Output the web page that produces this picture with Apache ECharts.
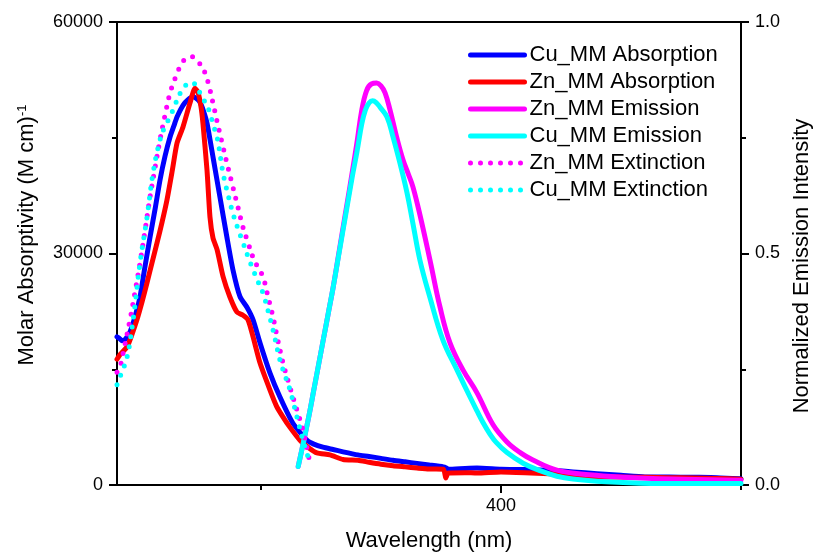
<!DOCTYPE html>
<html>
<head>
<meta charset="utf-8">
<script src="https://cdn.jsdelivr.net/npm/echarts@6/dist/echarts.min.js"></script>
<style>html,body{margin:0;padding:0;background:#fff;}#chart{width:814px;height:554px;}</style>
</head>
<body>
<div id="chart"></div>
<script>
// ---------- data ----------
const seriesNames = ['Cu_MM Absorption','Zn_MM Absorption','Zn_MM Emission','Cu_MM Emission','Zn_MM Extinction','Cu_MM Extinction'];

const cuAbsWl  = [240,241,242,243.5,245.5,247.5,249.6,251.5,253.75,256,257.9,260,262.1,264,265,267.5,269.5,271.7,273,274.6,276,277.5,280,282.9,285.8,288.3,291.25,294.2,296.7,299.6,303.75,307.9,313.3,319.2,322,325.8,330,334.2,340.4,345,350,355,360,365,370,376,377,378,385,390,400,410,420,430,440,450,460,470,480,490,500];
const cuAbsVal = [19200,19000,18700,18900,19900,21800,24400,28000,32100,36000,39500,42600,45100,46800,47700,49200,49900,50300,50100,49600,48500,46900,42500,37300,32100,27900,24400,23000,21400,18400,14500,11400,8000,5800,5300,4900,4600,4300,3900,3700,3450,3200,3000,2800,2600,2350,2250,2050,2150,2200,2050,2000,1900,1700,1450,1250,1050,1050,1000,950,800];

const znAbsWl  = [240,241.25,244.2,246,248.3,250.5,252.5,254.5,256.7,258.8,260.8,263,265,267.5,270.4,272.5,273.75,275,275.8,277.5,278.75,280,281.7,284.2,287,290,292.5,294.6,296.7,299.6,303.75,306.5,309.2,312,316.25,320,323.3,328.75,334.2,340.4,345,350,355,360,365,370,376,377,378,385,390,400,410,420,430,440,450,460,470,480,490,500];
const znAbsVal = [16300,16900,17900,19300,21400,23800,26200,28700,31400,34100,36900,40700,44300,46400,49500,51400,50900,49000,46900,40800,34700,32000,30500,27000,24400,22400,22000,21400,19200,15800,12300,10200,8800,7500,5800,4800,4150,3900,3300,3200,2950,2700,2500,2350,2200,2070,2050,900,1550,1600,1550,1700,1600,1450,1250,1050,1050,1000,950,900,850,750];

const znExtWl  = [240,241.25,243,245.4,247.5,249.6,251.7,253.75,255.8,257.9,260,262.1,264.6,267.1,269,271.25,274,276.7,278.5,280,282,284.2,286.2,288.3,290.4,292.5,294.6,296.7,298.7,300.8,303,305,307,309.2,311.2,313.3,315.4,317.5,319,320.4];
const znExtVal = [14600,15300,17800,21400,25000,28800,33000,37300,41000,44700,47900,50800,53000,54700,55300,55500,54800,53400,51500,49500,46700,43800,41200,38600,36000,33400,31400,29500,28200,27000,24300,21800,18800,15800,13600,11400,9300,7100,5000,2850];

const cuExtWl  = [240,241.25,244.2,246.7,249.6,252.5,255,257.9,260,262.1,264.5,267.1,269,271.25,273,274.6,276.7,278.75,280,281.7,284.2,286.2,288.3,290.4,292.5,294.6,296.7,298.7,300.8,303,305,307.9,310,312.1,315,317.5,320.4];
const cuExtVal = [13000,14000,16600,21400,28800,34700,40400,44700,46500,47700,49500,51200,51900,52200,51700,50800,49600,48200,46700,45100,40400,37700,35200,33200,31400,29600,27900,26400,24900,22500,20100,16200,14200,12300,8800,5800,2850];

const cuEmWl  = [315.5,318,320,322,324,326,328,330,332,334,336,338,340,342,343.5,345,346.5,348,349.6,352.5,355,357.9,360.8,363.3,366.25,370.4,375.8,381.7,387.1,390,392.5,395.4,398,402.5,409.2,416.25,423.3,430,444,458,480,500];
const cuEmVal = [0.04,0.10,0.15,0.205,0.26,0.315,0.37,0.425,0.485,0.545,0.605,0.665,0.72,0.78,0.81,0.825,0.83,0.826,0.816,0.795,0.752,0.695,0.632,0.565,0.485,0.405,0.313,0.248,0.19,0.16,0.135,0.11,0.092,0.07,0.047,0.031,0.019,0.013,0.007,0.004,0.003,0.003];

const znEmWl  = [315.5,318,320,322,324,326,328,330,332,334,336,338,340,342,344,346,348.2,350,351.7,353.75,356.5,359.2,361.5,363.3,366.25,370.4,374.6,378.75,384.2,390,396.7,402.5,408,413.3,423.3,437,450.8,471.7,500];
const znEmVal = [0.04,0.10,0.15,0.205,0.26,0.315,0.37,0.425,0.487,0.55,0.612,0.675,0.74,0.81,0.852,0.866,0.868,0.862,0.847,0.81,0.752,0.702,0.67,0.644,0.583,0.486,0.384,0.307,0.248,0.199,0.13,0.093,0.07,0.054,0.032,0.022,0.017,0.013,0.01];

const xTickLabels = [400];
const xMinorTicks = [300, 500];
// ----------------------------------------------------

const FONT = 'Liberation Sans, Arial, sans-serif';
const pairs = (xs, ys) => xs.map((x, i) => [x, ys[i]]);
const colors = ['#0000FF','#FF0000','#FF00FF','#00FFFF','#FF00FF','#00FFFF'];
const datasets = [pairs(cuAbsWl,cuAbsVal), pairs(znAbsWl,znAbsVal), pairs(znEmWl,znEmVal), pairs(cuEmWl,cuEmVal), pairs(znExtWl,znExtVal), pairs(cuExtWl,cuExtVal)];
const yIdx = [0,0,1,1,0,0];
const dotted = [false,false,false,false,true,true];
const smoothness = [0.2,0.2,0.4,0.4,0.4,0.4];

const axisCommon = {
  axisLine: {show: true, lineStyle: {color: '#000', width: 2}},
  splitLine: {show: false},
};

const chart = echarts.init(document.getElementById('chart'), null, {renderer: 'canvas'});
chart.setOption({
  animation: false,
  backgroundColor: '#fff',
  grid: {left: 117, right: 73, top: 22, bottom: 69, show: true, borderColor: '#000', borderWidth: 2},
  xAxis: [
    Object.assign({}, axisCommon, {
      type: 'value', min: 240, max: 500, position: 'bottom',
      axisTick: {show: true, customValues: xTickLabels, length: 8, lineStyle: {color: '#000', width: 2}},
      axisLabel: {customValues: xTickLabels, fontSize: 18, color: '#000', fontFamily: FONT, margin: 12}
    }),
    {
      type: 'value', min: 240, max: 500, position: 'bottom',
      axisLine: {show: false}, splitLine: {show: false},
      axisTick: {show: true, customValues: xMinorTicks, length: 5, lineStyle: {color: '#000', width: 2}},
      axisLabel: {show: false}
    }
  ],
  yAxis: [
    Object.assign({}, axisCommon, {
      type: 'value', min: 0, max: 60000, interval: 30000, position: 'left',
      axisTick: {show: true, length: 8, lineStyle: {color: '#000', width: 2}},
      minorTick: {show: true, splitNumber: 2, length: 5, lineStyle: {color: '#000', width: 2}},
      axisLabel: {formatter: v => String(v), fontSize: 18, color: '#000', fontFamily: FONT, margin: 14}
    }),
    Object.assign({}, axisCommon, {
      type: 'value', min: 0, max: 1, interval: 0.5, position: 'right',
      axisTick: {show: true, length: 8, lineStyle: {color: '#000', width: 2}},
      minorTick: {show: true, splitNumber: 2, length: 5, lineStyle: {color: '#000', width: 2}},
      axisLabel: {formatter: v => v.toFixed(1), fontSize: 18, color: '#000', fontFamily: FONT, margin: 14}
    })
  ],
  legend: {
    orient: 'vertical', left: 463, top: 39,
    itemWidth: 54, itemHeight: 14, itemGap: 5,
    textStyle: {fontSize: 22, color: '#000', fontFamily: FONT},
    lineStyle: {width: 5, cap: 'round'},
    itemStyle: {opacity: 0},
    data: seriesNames
  },
  graphic: [
    {type: 'text', x: 429, y: 541, style: {text: 'Wavelength (nm)', font: '22px ' + FONT, fill: '#000', align: 'center', verticalAlign: 'middle'}},
    {type: 'text', x: 27, y: 235, rotation: Math.PI / 2,
     style: {text: '{a|Molar Absorptivity (M cm)}{s|-1}', align: 'center', verticalAlign: 'middle', fill: '#000',
             rich: {a: {fontSize: 22, fontFamily: FONT, fill: '#000', verticalAlign: 'bottom'}, s: {fontSize: 13, fontFamily: FONT, fill: '#000', verticalAlign: 'top'}}}},
    {type: 'text', x: 802, y: 266, rotation: Math.PI / 2,
     style: {text: 'Normalized Emission Intensity', font: '22px ' + FONT, fill: '#000', align: 'center', verticalAlign: 'middle'}}
  ],
  series: seriesNames.map((name, i) => ({
    name: name, type: 'line', xAxisIndex: 0, yAxisIndex: yIdx[i],
    data: datasets[i], symbol: 'none', smooth: smoothness[i],
    itemStyle: {color: colors[i]},
    lineStyle: dotted[i]
      ? {color: colors[i], width: 5, type: [0, 10], cap: 'round'}
      : {color: colors[i], width: 5, join: 'round', cap: 'round'},
    z: 2 + i
  }))
});
</script>
</body>
</html>
